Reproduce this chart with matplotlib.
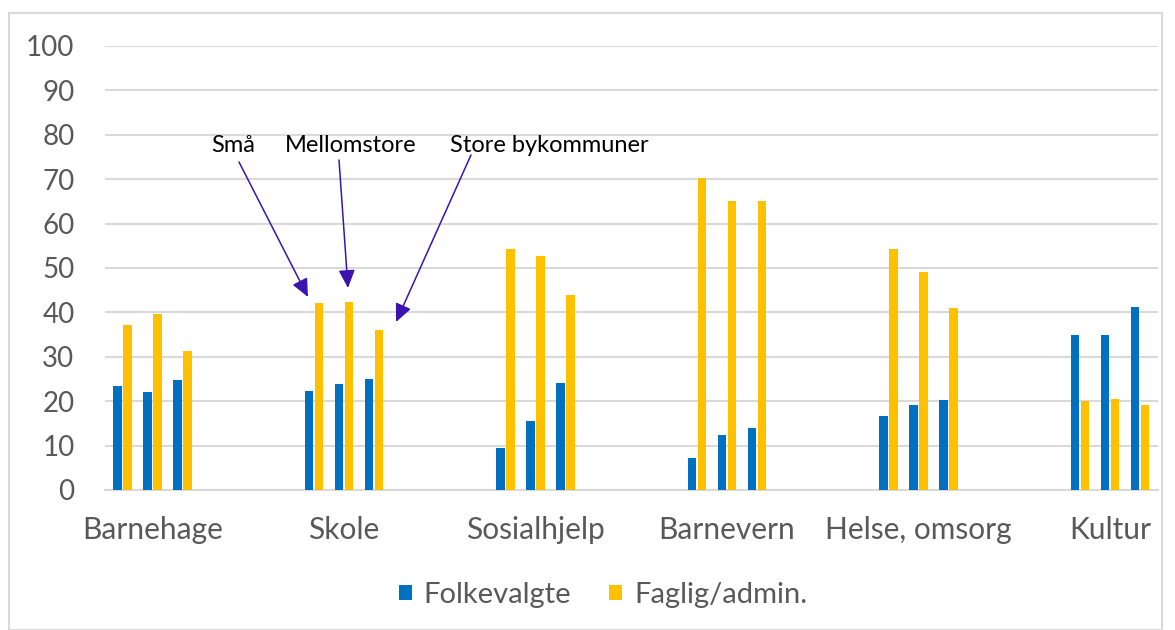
import matplotlib.pyplot as plt
from matplotlib.patches import Rectangle

categories = ['Barnehage', 'Skole', 'Sosialhjelp', 'Barnevern', 'Helse, omsorg', 'Kultur']
groups = ['Små', 'Mellomstore', 'Store bykommuner']
# one row per category, columns: Små, Mellomstore, Store bykommuner
folkevalgte = [[23.5, 22.0, 24.8],
               [22.2, 23.8, 25.0],
               [9.5, 15.5, 24.1],
               [7.3, 12.5, 14.0],
               [16.7, 19.2, 20.3],
               [34.9, 34.9, 41.2]]
faglig = [[37.1, 39.6, 31.3],
          [42.1, 42.3, 36.0],
          [54.2, 52.8, 44.0],
          [70.3, 65.1, 65.1],
          [54.2, 49.2, 40.9],
          [20.1, 20.4, 19.1]]
series_names = ['Folkevalgte', 'Faglig/admin.']

blue = '#0070C0'
yellow = '#FFC000'
grid_col = '#d9d9d9'
text_col = '#595959'
arrow_col = '#3a13b0'

plt.rcParams['font.family'] = ['Lato', 'DejaVu Sans']

fig = plt.figure(figsize=(11.75, 6.3), dpi=100)
ax = fig.add_axes([105/1175, 140/630, 1053/1175, 444/630])

step = 30/191.5
w = 8.5/191.5
off = 5/191.5
for i in range(len(categories)):
    for j in range(3):
        x = i + (j - 1)*step
        ax.bar(x - off, folkevalgte[i][j], width=w, color=blue,
               label=series_names[0] if i == 0 and j == 0 else None, zorder=3)
        ax.bar(x + off, faglig[i][j], width=w, color=yellow,
               label=series_names[1] if i == 0 and j == 0 else None, zorder=3)

ax.set_xlim(-47.5/191.5, 1005.5/191.5)
ax.set_ylim(0, 100)
ax.set_yticks(range(0, 101, 10))
ax.set_xticks(range(len(categories)))
ax.set_xticklabels(categories)
ax.yaxis.grid(True, color=grid_col, linewidth=1.5, zorder=0)
for s in ['top', 'right', 'left']:
    ax.spines[s].set_visible(False)
ax.spines['bottom'].set_color(grid_col)
ax.spines['bottom'].set_linewidth(1.5)
ax.tick_params(axis='y', length=0, pad=22, labelsize=20, labelcolor=text_col)
ax.tick_params(axis='x', length=0, pad=19, labelsize=21.5, labelcolor=text_col)

# annotations with arrows (figure pixel coords, origin bottom-left)
H = 630
notes = [('Små', (233, 146), (239, 162), (308, 297)),
         ('Mellomstore', (351, 146), (339, 160), (348, 288)),
         ('Store bykommuner', (549, 146), (471, 155), (396, 322))]
for txt, tpos, start, tip in notes:
    fig.text(tpos[0]/1175, (H - tpos[1])/H, txt, ha='center', va='center',
             fontsize=17, color='black')
    ax.annotate('', xy=(tip[0], H - tip[1]), xycoords='figure pixels',
                xytext=(start[0], H - start[1]), textcoords='figure pixels',
                arrowprops=dict(arrowstyle='-|>,head_length=1.1,head_width=0.5',
                                color=arrow_col, lw=1.1, shrinkA=0, shrinkB=0))

fig.legend(loc='center', bbox_to_anchor=(603/1175, (H - 595)/H), ncol=2,
           frameon=False, fontsize=21, labelcolor=text_col,
           handlelength=0.45, handleheight=0.45, handletextpad=0.4, columnspacing=1.3)

fig.patches.append(Rectangle((9/1175, 0), 1153/1175, (H - 13)/H, transform=fig.transFigure,
                             fill=False, edgecolor='#d9d9d9', linewidth=1.5))

fig.savefig('out.png', dpi=100)
